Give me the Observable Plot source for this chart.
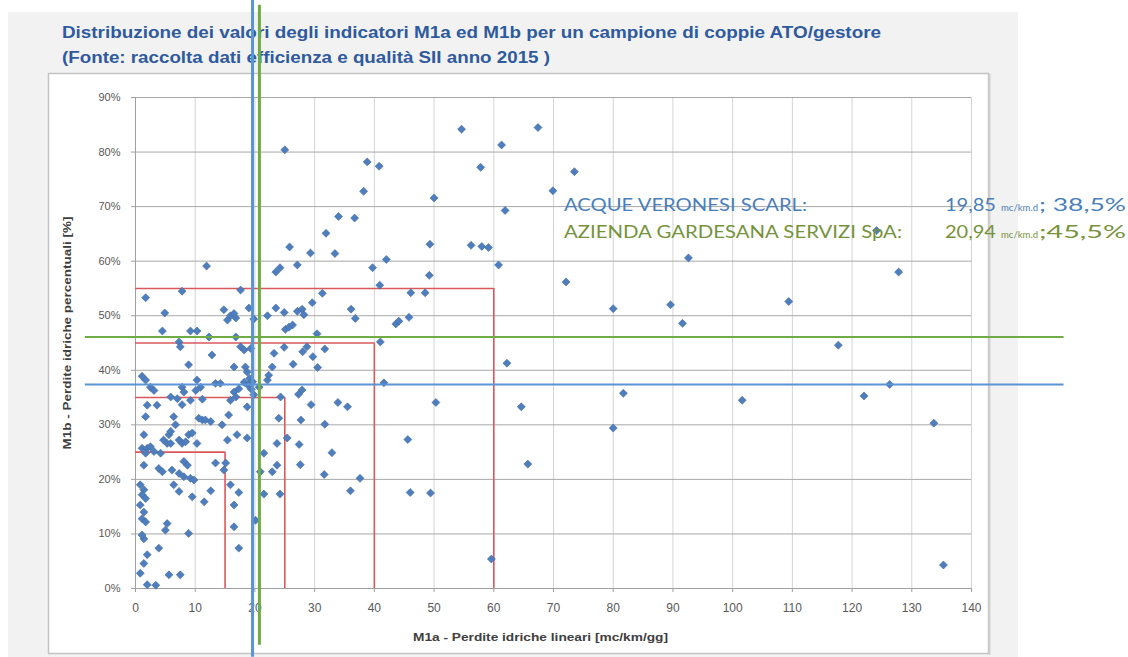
<!DOCTYPE html>
<html>
<head>
<meta charset="utf-8">
<script src="https://cdn.jsdelivr.net/npm/d3@7"></script>
<script src="https://cdn.jsdelivr.net/npm/@observablehq/plot@0.6"></script>
<style>
  body { margin: 0; background: #ffffff; }
  #wrap { position: relative; width: 1128px; height: 657px; overflow: hidden; }
  #wrap > svg, #wrap > div { position: absolute; left: 0; top: 0; }
</style>
</head>
<body>
<div id="wrap">
  <svg id="bg" width="1128" height="657"></svg>
  <div id="chart"></div>
  <svg id="fg" width="1128" height="657"></svg>
</div>
<script>
// ---------------- DATA ----------------
const titolo = "Distribuzione dei valori degli indicatori M1a ed M1b per un campione di coppie ATO/gestore";
const sottotitolo = "(Fonte: raccolta dati efficienza e qualità SII anno 2015 )";
const xLabel = "M1a - Perdite idriche lineari [mc/km/gg]";
const yLabel = "M1b - Perdite idriche  percentuali [%]";

const xTicks = [0, 10, 20, 30, 40, 50, 60, 70, 80, 90, 100, 110, 120, 130, 140];
const yTicks = [0, 10, 20, 30, 40, 50, 60, 70, 80, 90];

// campione ATO/gestore: [M1a (mc/km/gg), M1b (%)]
const campione = [
  [11.9,59.1],[25.8,62.6],[29.3,61.5],[27.1,59.3],[23.5,58.0],[24.2,58.8],
  [1.7,53.3],[7.8,54.5],[17.6,54.7],[4.9,50.5],
  [14.8,51.1],[15.4,49.2],[15.9,50.0],[16.8,49.6],[16.5,50.4],
  [19.0,51.4],[19.8,49.4],[22.1,50.0],[23.5,51.4],[24.9,50.6],
  [27.1,50.8],[27.9,51.2],[28.2,50.2],[29.6,52.4],
  [25.1,47.5],[25.7,47.9],[26.3,48.3],
  [4.5,47.2],[9.2,47.2],[10.3,47.2],[12.3,46.1],[16.8,46.1],
  [7.3,45.2],[7.5,44.3],[17.6,44.3],[18.2,43.7],[19.3,44.0],
  [24.9,44.2],[28.7,44.3],[28.0,43.4],[29.7,42.5],[23.2,43.1],[12.8,42.8],
  [26.4,41.1],[8.9,41.0],[16.5,40.6],[18.4,40.6],[18.7,39.7],
  [22.9,40.6],[22.3,39.1],[22.1,38.2],
  [1.1,38.9],[1.7,38.2],[2.5,36.9],[3.1,36.3],
  [7.8,36.9],[8.1,36.0],[10.3,38.2],[10.9,36.9],[10.1,36.3],
  [13.4,37.6],[14.2,37.6],[16.5,36.0],[17.3,36.6],
  [18.2,37.8],[18.8,37.3],[19.1,38.5],[19.6,37.9],[19.4,36.5],[19.8,35.5],
  [20.7,36.9],[24.3,35.1],[27.3,35.6],[27.9,36.4],[29.4,33.7],
  [15.9,34.5],[16.8,35.1],[5.9,35.1],[7.0,34.8],[9.2,34.5],[11.2,34.7],
  [1.96,33.6],[3.6,33.6],[18.7,33.3],
  [30.5,40.5],[31.7,43.9],[30.4,46.7],
  [7.8,33.7],[1.7,31.5],[6.4,31.5],[10.6,31.2],[11.2,30.9],[11.7,30.9],[12.6,30.6],[14.5,30.0],[15.6,31.8],[24.0,31.2],[27.7,30.9],[6.7,30.0],
  [1.4,28.2],[5.6,28.2],[5.9,28.8],[8.9,28.2],[9.5,28.5],[17.0,28.2],[18.7,27.6],[15.4,27.2],[25.4,27.6],[23.7,26.6],[27.4,26.4],
  [4.7,27.2],[5.3,26.6],[5.9,26.6],[7.3,27.2],[7.8,26.6],[8.4,26.9],[10.3,26.6],
  [1.1,25.7],[1.96,25.7],[2.5,26.0],[3.1,25.1],[1.7,24.8],[4.2,24.8],[21.5,24.8],
  [23.7,22.6],[27.6,22.7],[8.1,23.3],[8.7,22.6],[13.4,23.0],[15.1,23.0],[14.8,21.7],[22.9,21.4],
  [1.4,22.6],[3.9,22.0],[4.5,21.4],[6.1,21.7],[7.3,21.1],[8.1,20.5],[9.2,20.2],[9.8,19.9],[20.9,21.4],
  [0.8,19.0],[1.4,18.1],[1.1,17.2],[1.7,16.5],[0.8,15.3],[1.4,14.0],
  [6.4,19.0],[7.3,17.8],[12.6,17.9],[15.9,19.0],[17.3,17.6],[21.5,17.3],[24.2,17.3],
  [9.5,16.8],[11.5,15.9],[16.5,15.3],
  [1.1,12.8],[1.7,12.2],[1.4,9.1],[1.1,9.8],[5.3,11.9],[5.0,10.7],[8.9,10.1],[16.5,11.3],[20.1,12.5],
  [17.3,7.4],[3.9,7.4],[1.96,6.2],[1.4,4.6],[0.8,2.8],[5.6,2.5],[7.5,2.5],[1.96,0.7],[3.4,0.6],
  [25.0,80.4],[54.6,84.2],[67.4,84.5],[61.3,81.3],[38.8,78.2],[40.8,77.4],[57.8,77.2],[73.5,76.4],
  [38.2,72.8],[69.9,72.9],[50.0,71.6],[61.9,69.3],[34.0,68.2],[36.7,67.9],[31.9,65.1],
  [33.4,61.4],[49.3,63.1],[56.2,62.9],[58.0,62.7],[59.1,62.5],[39.7,58.8],[42.0,60.3],[60.8,59.3],[72.1,56.2],[49.2,57.4],[40.9,55.6],[31.3,54.1],[46.1,54.2],[48.5,54.2],
  [36.1,51.2],[36.8,49.5],[43.6,48.5],[44.1,49.0],[45.8,49.7],[41.0,45.2],[62.2,41.3],
  [41.6,37.7],[33.9,34.1],[35.5,33.3],[50.3,34.1],[64.6,33.3],[31.7,30.1],[32.9,24.9],[45.6,27.3],[65.7,22.8],[31.6,20.9],[37.6,20.2],[36.0,17.9],[46.0,17.6],[49.4,17.5],[59.6,5.4],
  [92.6,60.6],[127.8,58.0],[80.0,51.3],[89.6,52.0],[91.6,48.6],[109.4,52.6],[117.7,44.6],[124.1,65.6],
  [81.7,35.8],[80.0,29.4],[101.6,34.5],[122.0,35.3],[126.3,37.4],[133.7,30.3],[135.3,4.3]
];

// soglie (riquadri rossi)
const sogliaM1a = [15, 25, 40, 60];
const sogliaM1b = [25, 35, 45, 55];

// gestori evidenziati
const gestori = ["ACQUE VERONESI SCARL:", "AZIENDA GARDESANA SERVIZI SpA:"];
const gestoriM1aTesto = ["19,85", "20,94"];
const gestoriM1bTesto = ["; 38,5%", ";45,5%"];
const gestoriM1a = [19.6, 20.75];   // posizione linee verticali (come disegnate)
const gestoriM1b = [37.4, 46.1];    // posizione linee orizzontali (come disegnate)
const gestoriColore = ["#5b93d3", "#6fac46"];
const gestoriTestoColore = ["#4a7ebb", "#76923c"];

// ---------------- LAYOUT ----------------
const W = 1128, H = 657;
const M = {left: 135, right: 157, top: 97, bottom: 69};
const vLineExt = [[-12.6, 107.8], [-10.4, 106.9]];   // extent of vertical guide lines (y units)
const hLineExt = [-8.4, 155.5];                      // extent of horizontal guide lines (x units)

const punti = campione.map(([a, b]) => ({m1a: a, m1b: b}));
const soglie = sogliaM1a.map((a, i) => ({a, b: sogliaM1b[i]}));
const linee = gestori.map((g, i) => ({g, a: gestoriM1a[i], b: gestoriM1b[i], c: gestoriColore[i], y1: vLineExt[i][0], y2: vLineExt[i][1]}));

// ---------------- BACKGROUND + TITLES ----------------
const bg = d3.select("#bg");
bg.append("rect").attr("x", 8).attr("y", 12).attr("width", 1010).attr("height", 660).attr("fill", "#f2f2f2");
bg.append("rect").attr("x", 48.5).attr("y", 73.5).attr("width", 940).attr("height", 580)
  .attr("fill", "#ffffff").attr("stroke", "#c4c4c4").attr("stroke-width", 1.5);
bg.append("line").attr("x1", 989.5).attr("x2", 989.5).attr("y1", 74).attr("y2", 655).attr("stroke", "#d0d0d0").attr("stroke-width", 2);
const titleFont = "'Liberation Sans Narrow', 'Arial Narrow', 'Liberation Sans', Arial, sans-serif";
bg.append("text").attr("x", 62).attr("y", 38).attr("font-family", titleFont).attr("font-weight", "bold")
  .attr("font-size", 16).attr("fill", "#2f5a9e").attr("textLength", 819).attr("lengthAdjust", "spacingAndGlyphs").text(titolo);
bg.append("text").attr("x", 62).attr("y", 63).attr("font-family", titleFont).attr("font-weight", "bold")
  .attr("font-size", 16).attr("fill", "#2f5a9e").attr("textLength", 488).attr("lengthAdjust", "spacingAndGlyphs").text(sottotitolo);
// axis titles
bg.append("text").attr("x", 413).attr("y", 641).attr("font-family", "'Liberation Sans', Arial, sans-serif").attr("font-weight", "bold")
  .attr("font-size", 11).attr("fill", "#404040").attr("textLength", 255).attr("lengthAdjust", "spacingAndGlyphs").text(xLabel);
bg.append("text").attr("transform", "translate(71,333) rotate(-90)").attr("text-anchor", "middle")
  .attr("font-family", "'Liberation Sans', Arial, sans-serif").attr("font-weight", "bold")
  .attr("font-size", 11).attr("fill", "#404040").attr("textLength", 233).attr("lengthAdjust", "spacingAndGlyphs").text(yLabel);

// ---------------- PLOT ----------------
const chart = Plot.plot({
  width: W, height: H,
  marginLeft: M.left, marginRight: M.right, marginTop: M.top, marginBottom: M.bottom,
  x: {domain: [0, 140]},
  y: {domain: [0, 90]},
  style: {background: "transparent", overflow: "visible", fontFamily: "'Liberation Sans', Arial, sans-serif", fontSize: "11px", color: "#595959"},
  marks: [
    Plot.gridX(xTicks.slice(1), {stroke: "#d4d4d4", strokeOpacity: 1, strokeWidth: 1}),
    Plot.gridY(yTicks.slice(1), {stroke: "#a8a8a8", strokeOpacity: 1, strokeWidth: 1}),
    Plot.ruleX([0], {stroke: "#a0a0a0"}),
    Plot.ruleY([0], {stroke: "#a0a0a0"}),
    Plot.axisX(xTicks, {tickSize: 4, tickPadding: 11, label: null, stroke: "#a0a0a0", fontSize: 12}),
    Plot.axisY(yTicks, {tickSize: 4, tickPadding: 11, label: null, stroke: "#a0a0a0", tickFormat: d => `${d}%`, fontSize: 11}),
    Plot.ruleX(soglie, {x: "a", y1: 0, y2: "b", stroke: "#d9585c", strokeWidth: 1.6}),
    Plot.ruleY(soglie, {y: "b", x1: 0, x2: "a", stroke: "#d9585c", strokeWidth: 1.6}),
    Plot.dot(punti, {x: "m1a", y: "m1b", symbol: "diamond2", r: 3.6, fill: "#4e7ebe", stroke: "#41699f", strokeWidth: 0.6}),
    Plot.ruleY(linee, {y: "b", x1: hLineExt[0], x2: hLineExt[1], stroke: "c", strokeWidth: 2}),
    Plot.ruleX(linee, {x: "a", y1: "y1", y2: "y2", stroke: "c", strokeWidth: 3})
  ]
});
document.getElementById("chart").appendChild(chart);

// ---------------- LEGEND TEXT ----------------
const fg = d3.select("#fg");
const legFont = "Lato, 'Open Sans', sans-serif";
const nameLen = [243, 338];
const baseY = [211, 238];
gestori.forEach((g, i) => {
  fg.append("text").attr("x", 564).attr("y", baseY[i]).attr("font-family", legFont).attr("font-size", 17)
    .attr("fill", gestoriTestoColore[i]).attr("textLength", nameLen[i]).attr("lengthAdjust", "spacingAndGlyphs").text(g);
  fg.append("text").attr("x", 945).attr("y", baseY[i]).attr("font-family", legFont).attr("font-size", 17)
    .attr("fill", gestoriTestoColore[i]).attr("textLength", 51).attr("lengthAdjust", "spacingAndGlyphs").text(gestoriM1aTesto[i]);
  fg.append("text").attr("x", 1001).attr("y", baseY[i]).attr("font-family", legFont).attr("font-size", 9)
    .attr("fill", gestoriTestoColore[i]).attr("textLength", 37).attr("lengthAdjust", "spacingAndGlyphs").text("mc/km.d");
  fg.append("text").attr("x", 1039).attr("y", baseY[i]).attr("font-family", legFont).attr("font-size", 17)
    .attr("fill", gestoriTestoColore[i]).attr("textLength", 87).attr("lengthAdjust", "spacingAndGlyphs").text(gestoriM1bTesto[i]);
});
</script>
</body>
</html>
